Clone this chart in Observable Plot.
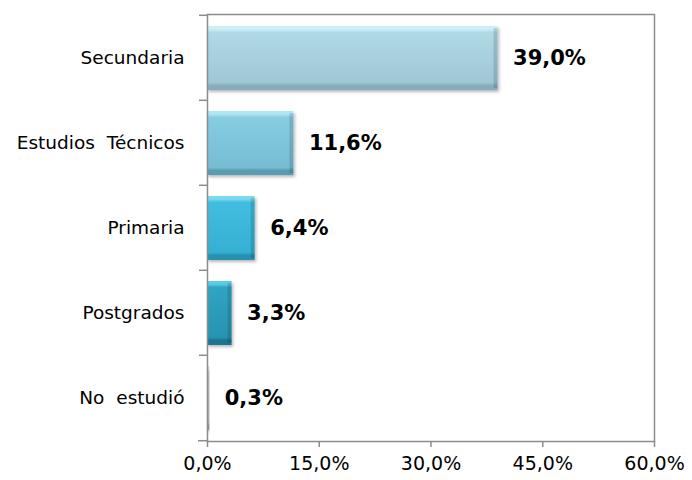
<!DOCTYPE html>
<html>
<head>
<meta charset="utf-8">
<script src="https://cdn.jsdelivr.net/npm/d3@7"></script>
<script src="https://cdn.jsdelivr.net/npm/@observablehq/plot@0.6"></script>
<style>
  html, body { margin: 0; padding: 0; background: #fff; }
  #chart svg { display: block; }
  #chart svg g[aria-label="y-axis tick label"] text { word-spacing: 6px; }
</style>
</head>
<body>
<div id="chart"></div>
<script>
const categories = ["Secundaria", "Estudios Técnicos", "Primaria", "Postgrados", "No estudió"];
const values = [39.0, 11.6, 6.4, 3.3, 0.3];
const xTicks = [0, 15, 30, 45, 60];
// bar colours: [highlight, body top, body bottom, bottom edge]
const barColors = [
  ["#cdeef6", "#b0d9e6", "#9fc7d5", "#86adbb"],
  ["#aee6f4", "#86cde2", "#76bcd2", "#5a9db3"],
  ["#7ad8f0", "#41bde0", "#35b0d3", "#2690ae"],
  ["#5ccbe4", "#2fa4c4", "#2893b2", "#1c7490"],
  ["#d8dee0", "#b8c0c4", "#a8b2b6", "#8a9498"]
];

const data = categories.map((c, i) => ({cat: c, value: values[i], idx: i}));
const fmt = v => v.toFixed(1).replace(".", ",") + "%";

const W = 692, H = 480, mL = 207, mR = 38, mT = 14, mB = 39;
const bw = (H - mT - mB) / categories.length;
const font = "DejaVu Sans, Verdana, sans-serif";
const axisGray = "#8c8c8c";

const plot = Plot.plot({
  width: W,
  height: H,
  marginLeft: mL,
  marginRight: mR,
  marginTop: mT,
  marginBottom: mB,
  style: {fontFamily: font, background: "#fff", color: "#000"},
  x: {domain: [0, 60], label: null},
  y: {domain: categories, padding: 0, label: null},
  color: {type: "identity"},
  marks: [
    Plot.barX(data, {
      x: "value", y: "cat",
      fill: d => `url(#barGrad${d.idx})`,
      insetTop: 11, insetBottom: 10
    }),
    // darker right bevel of each bar
    Plot.barX(data.filter(d => d.value > 1), {
      x1: "value", x2: "value", y: "cat",
      insetLeft: -4, insetTop: 13, insetBottom: 12,
      fill: "#000", fillOpacity: 0.13
    }),
    Plot.frame({stroke: axisGray, strokeWidth: 1.5}),
    // category boundary ticks on the y axis
    Plot.ruleY(categories, {y: d => d, x1: 0, x2: 0, insetLeft: -8, dy: -bw / 2, stroke: axisGray, strokeWidth: 1.5}),
    Plot.ruleY([categories[categories.length - 1]], {y: d => d, x1: 0, x2: 0, insetLeft: -9, dy: bw / 2, stroke: axisGray, strokeWidth: 1.5}),
    Plot.axisX({
      ticks: xTicks, tickFormat: fmt, tickSize: 6, tickPadding: 9,
      fontSize: 19, stroke: axisGray, strokeWidth: 1.5, label: null
    }),
    Plot.axisY({tickSize: 0, tickPadding: 23, fontSize: 18.5, label: null}),
    Plot.text(data, {
      x: "value", y: "cat", text: d => fmt(d.value),
      dx: 15, textAnchor: "start", fontWeight: "bold", fontSize: 21, fill: "#000"
    })
  ]
});

// gradients and shadow for the bevelled bars
const defs = document.createElementNS("http://www.w3.org/2000/svg", "defs");
let html = `<filter id="barShadow" x="-10%" y="-10%" width="130%" height="140%">
  <feDropShadow dx="1.5" dy="2" stdDeviation="1.5" flood-color="#000" flood-opacity="0.28"/></filter>`;
barColors.forEach((c, i) => {
  html += `<linearGradient id="barGrad${i}" x1="0" y1="0" x2="0" y2="1">
    <stop offset="0" stop-color="${c[0]}"/>
    <stop offset="0.05" stop-color="${c[0]}"/>
    <stop offset="0.1" stop-color="${c[1]}"/>
    <stop offset="0.88" stop-color="${c[2]}"/>
    <stop offset="0.93" stop-color="${c[3]}"/>
    <stop offset="1" stop-color="${c[3]}"/>
  </linearGradient>`;
});
defs.innerHTML = html;
plot.insertBefore(defs, plot.firstChild);
plot.querySelectorAll("g[aria-label='bar']:first-of-type rect").forEach(r => r.setAttribute("filter", "url(#barShadow)"));

document.getElementById("chart").appendChild(plot);
</script>
</body>
</html>
